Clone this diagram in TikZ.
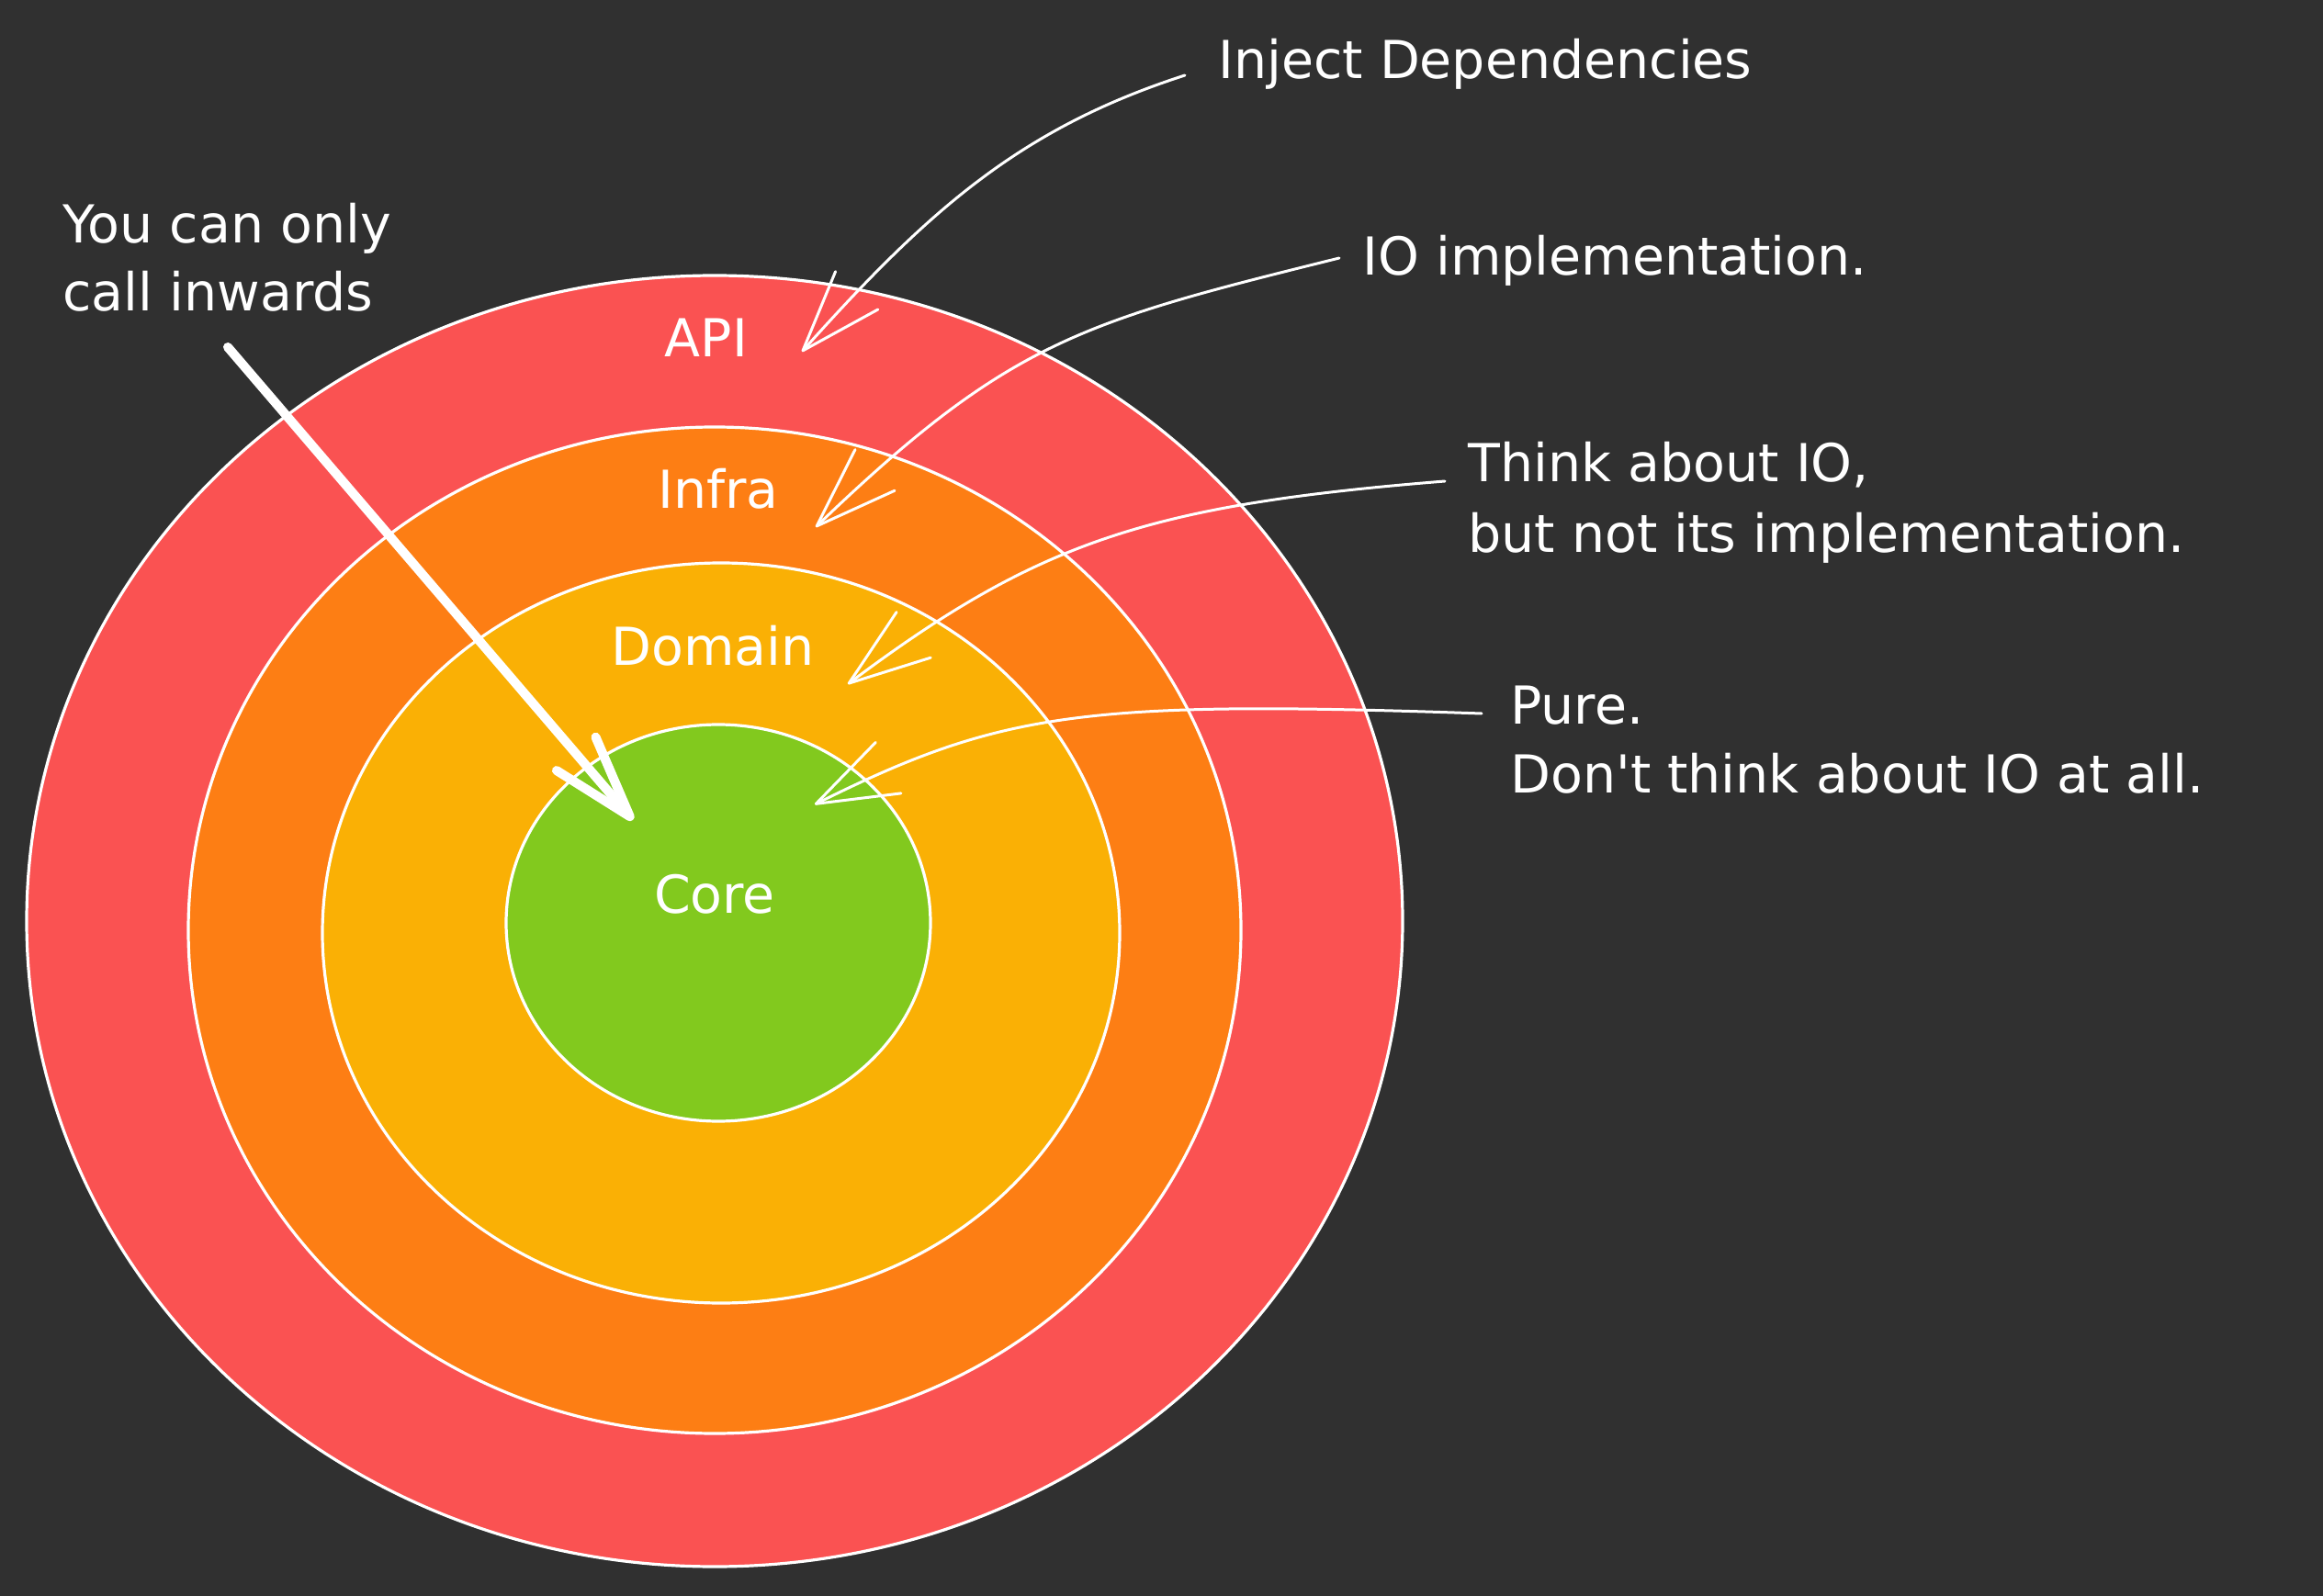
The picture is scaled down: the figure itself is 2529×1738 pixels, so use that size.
\documentclass[tikz,border=0pt]{standalone}
\usepackage{fontspec}
\setmainfont{DejaVu Sans}[Ligatures=TeXOff]
\usetikzlibrary{arrows.meta,shapes.geometric}
\definecolor{bg}{HTML}{303030}
\definecolor{lred}{HTML}{FA5252}
\definecolor{lorange}{HTML}{FD7E14}
\definecolor{lyellow}{HTML}{FAB005}
\definecolor{lgreen}{HTML}{82C91E}
\begin{document}
\begin{tikzpicture}[x=0.5pt,y=-0.5pt,
  ring/.style={ellipse, draw=white, line width=1.6pt, inner sep=0pt, outer sep=0pt},
  lbl/.style={text=white, font=\fontsize{28.5}{34}\selectfont, inner sep=0pt},
  note/.style={lbl, anchor=base west},
  pointer/.style={draw=white, line width=1.5pt, line cap=round, -{Straight Barb[length=44pt,width=31pt,round]}},
  bigarrow/.style={draw=white, line width=5pt, line cap=round, -{Straight Barb[length=45pt,width=28pt,round]}}]
\fill[bg] (0,0) rectangle (2529,1738);
\useasboundingbox (0,0) rectangle (2529,1738);

% rings
\node[ring, fill=lred, minimum width=749pt, minimum height=703pt] (api) at (778,1003) {};
\node[ring, fill=lorange, minimum width=573pt, minimum height=548pt] (infra) at (778,1013) {};
\node[ring, fill=lyellow, minimum width=434pt, minimum height=403pt] (domain) at (785,1016) {};
\node[ring, fill=lgreen, minimum width=231pt, minimum height=216pt] (core) at (782,1005) {};

% ring labels
\node[lbl] (apil) at (769,368) {API};
\node[lbl] (infral) at (782,532) {Infra};
\node[lbl] (domainl) at (776,703) {Domain};
\node[lbl] (corel) at (778,974) {Core};

% notes
\node[note] (inj) at (1326,86) {Inject Dependencies};
\node[note] (io) at (1483,300) {IO implementation.};
\node[note] (think1) at (1598,525) {Think about IO,};
\node[note] (think2) at (1598,602) {but not its implementation.};
\node[note] (pure1) at (1644,788) {Pure.};
\node[note] (pure2) at (1644,863) {Don't think about IO at all.};
\node[note] (you1) at (68,265) {You can only};
\node[note] (you2) at (68,339) {call inwards};

% arrow ends
\coordinate (injs) at (1290,82);
\coordinate (injt) at (873,383);
\coordinate (ios) at (1458,281);
\coordinate (iot) at (888,574);
\coordinate (ths) at (1573,524);
\coordinate (tht) at (923,745);
\coordinate (pus) at (1613,777);
\coordinate (put) at (887,876);
\coordinate (cas) at (248,378);
\coordinate (cat) at (689,893);

\draw[pointer] (injs) .. controls (1110,140) and (1010,230) .. (injt);
\draw[pointer] (ios) .. controls (1180,350) and (1100,370) .. (iot);
\draw[pointer] (ths) .. controls (1250,550) and (1130,590) .. (tht);
\draw[pointer] (pus) .. controls (1180,762) and (1090,775) .. (put);
\draw[bigarrow] (cas) -- (cat);
\end{tikzpicture}
\end{document}
